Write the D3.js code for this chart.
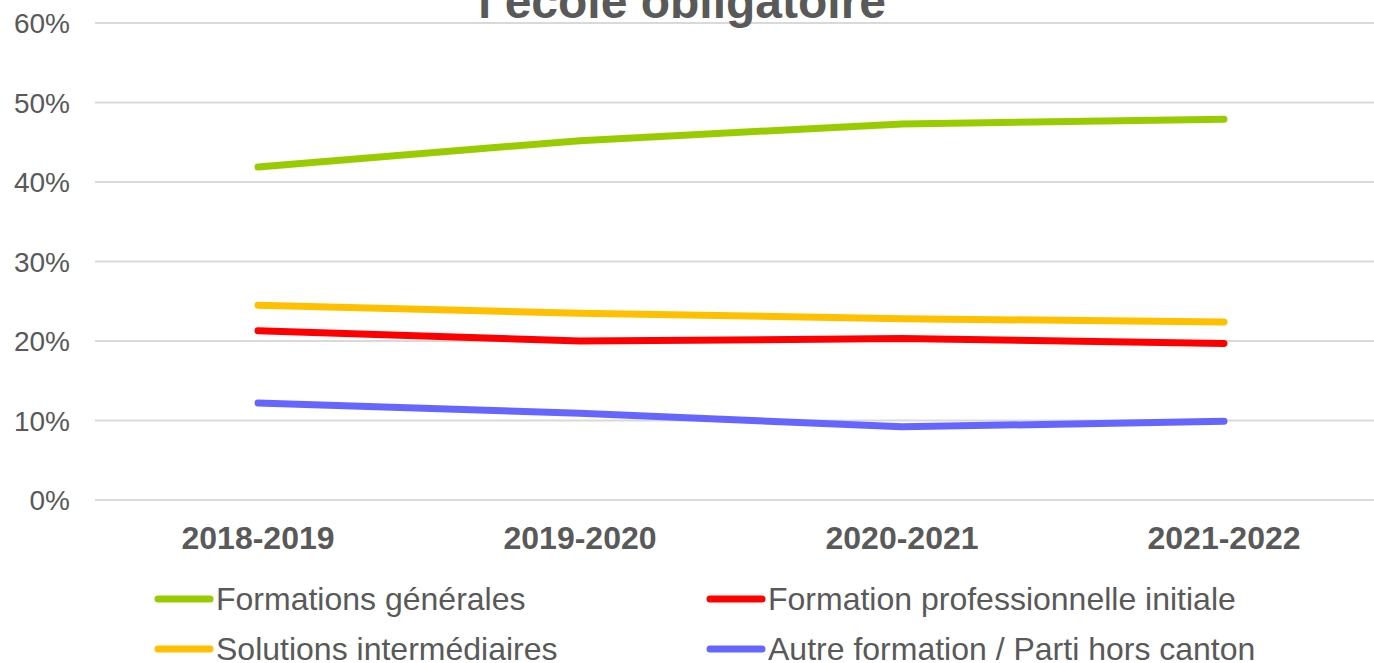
<!DOCTYPE html>
<html>
<head>
<meta charset="utf-8">
<script src="https://cdn.jsdelivr.net/npm/d3@7"></script>
<style>
  body { margin: 0; background: #fff; }
  svg { display: block; font-family: Arial, "Liberation Sans", sans-serif; }
</style>
</head>
<body>
<svg width="1374" height="663"></svg>
<script>
var years = ["2018-2019", "2019-2020", "2020-2021", "2021-2022"];
var yTicks = [0, 0.1, 0.2, 0.3, 0.4, 0.5, 0.6];

var generales = [0.419, 0.452, 0.473, 0.479];
var professionnelle = [0.213, 0.200, 0.203, 0.197];
var intermediaires = [0.245, 0.235, 0.228, 0.224];
var autre = [0.122, 0.109, 0.092, 0.099];

var seriesNames = ["Formations générales", "Formation professionnelle initiale",
  "Solutions intermédiaires", "Autre formation / Parti hors canton"];
var seriesColors = ["#99cc00", "#ff0000", "#ffc000", "#6666ff"];
var seriesValues = [generales, professionnelle, intermediaires, autre];

var svg = d3.select("svg");

var x = d3.scalePoint()
  .domain(years)
  .range([97, 1385])
  .padding(0.5);

var y = d3.scaleLinear()
  .domain([0, 0.6])
  .range([500, 23]);

// gridlines
svg.append("g")
  .selectAll("line")
  .data(yTicks)
  .enter()
  .append("line")
  .attr("x1", 95)
  .attr("x2", 1374)
  .attr("y1", function(d) { return y(d); })
  .attr("y2", function(d) { return y(d); })
  .style("stroke", "#d9d9d9")
  .style("stroke-width", 2);

// y labels
svg.append("g")
  .selectAll("text")
  .data(yTicks)
  .enter()
  .append("text")
  .attr("x", 70)
  .attr("y", function(d) { return y(d) + 10; })
  .attr("text-anchor", "end")
  .attr("font-size", "28px")
  .style("fill", "#595959")
  .text(d3.format(".0%"));

// x labels
svg.append("g")
  .selectAll("text")
  .data(years)
  .enter()
  .append("text")
  .attr("x", function(d) { return x(d); })
  .attr("y", 549)
  .attr("text-anchor", "middle")
  .attr("font-size", "32px")
  .attr("font-weight", "bold")
  .style("fill", "#595959")
  .text(function(d) { return d; });

// title (first line out of frame)
svg.append("text")
  .attr("x", 682)
  .attr("y", 18)
  .attr("text-anchor", "middle")
  .attr("font-size", "48px")
  .attr("font-weight", "bold")
  .style("fill", "#595959")
  .text("l’école obligatoire");

var line = d3.line()
  .x(function(d, i) { return x(years[i]); })
  .y(function(d) { return y(d); });

svg.append("g")
  .selectAll("path")
  .data(seriesValues)
  .enter()
  .append("path")
  .attr("d", line)
  .style("fill", "none")
  .style("stroke", function(d, i) { return seriesColors[i]; })
  .style("stroke-width", 7)
  .style("stroke-linecap", "round")
  .style("stroke-linejoin", "round");

// legend
var legend = svg.append("g")
  .selectAll("g")
  .data(seriesNames)
  .enter()
  .append("g")
  .attr("transform", function(d, i) {
    return "translate(" + (i % 2 === 0 ? 158 : 710) + "," + (i < 2 ? 599 : 649) + ")";
  });

legend.append("line")
  .attr("x1", 0)
  .attr("x2", 52)
  .style("stroke", function(d, i) { return seriesColors[i]; })
  .style("stroke-width", 7)
  .style("stroke-linecap", "round");

legend.append("text")
  .attr("x", 58)
  .attr("y", 11)
  .attr("font-size", "32px")
  .style("fill", "#595959")
  .text(function(d) { return d; });
</script>
</body>
</html>
